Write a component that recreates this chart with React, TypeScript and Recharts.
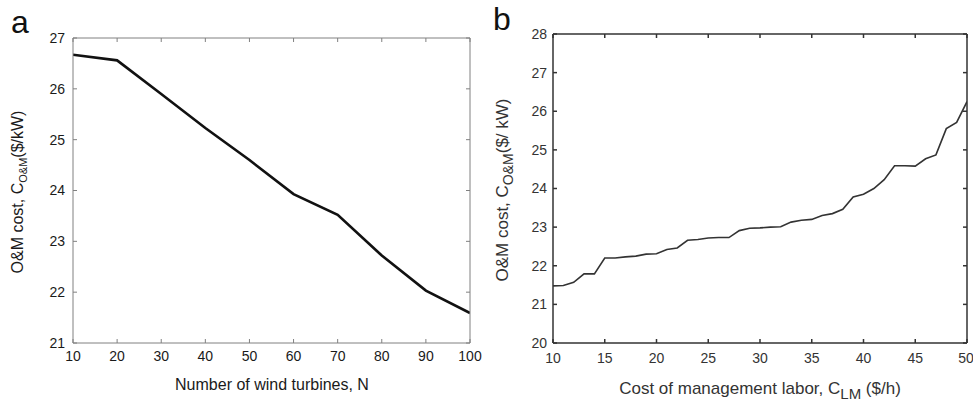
import React from 'react';
import { LineChart, Line, XAxis, YAxis } from 'recharts';

// panel a: O&M cost vs number of wind turbines
const turbineCounts = [10, 20, 30, 40, 50, 60, 70, 80, 90, 100];
const costByTurbines = [26.67, 26.56, 25.9, 25.23, 24.6, 23.93, 23.52, 22.72, 22.03, 21.59];
const turbineTicks = [10, 20, 30, 40, 50, 60, 70, 80, 90, 100];
const costTicksA = [21, 22, 23, 24, 25, 26, 27];

// panel b: O&M cost vs cost of management labor
const laborCosts = [
    10, 11, 12, 13, 14, 15, 16, 17, 18, 19, 20, 21, 22, 23, 24, 25, 26, 27, 28, 29, 30,
    31, 32, 33, 34, 35, 36, 37, 38, 39, 40, 41, 42, 43, 44, 45, 46, 47, 48, 49, 50,
];
const costByLabor = [
    21.48, 21.49, 21.57, 21.79, 21.79, 22.2, 22.2, 22.23, 22.25, 22.3, 22.31,
    22.42, 22.46, 22.66, 22.68, 22.72, 22.73, 22.73, 22.91, 22.97, 22.98,
    23.0, 23.01, 23.13, 23.18, 23.2, 23.3, 23.35, 23.46, 23.78, 23.85,
    24.0, 24.23, 24.59, 24.59, 24.58, 24.77, 24.87, 25.55, 25.71, 26.25,
];
const laborTicks = [10, 15, 20, 25, 30, 35, 40, 45, 50];
const costTicksB = [20, 21, 22, 23, 24, 25, 26, 27, 28];

const dataA = turbineCounts.map((n, i) => ({ n, cost: costByTurbines[i] }));
const dataB = laborCosts.map((c, i) => ({ c, cost: costByLabor[i] }));

const FONT = '"Liberation Sans", Arial, Helvetica, sans-serif';
const noLabel = () => <g />;

export default function App() {
    return (
        <div style={{ position: 'absolute', left: 0, top: 0, width: 973, height: 403, background: '#fff', overflow: 'hidden', fontFamily: FONT }}>
            {/* panel a */}
            <div style={{ position: 'absolute', left: 0, top: 0 }}>
                <LineChart width={490} height={403} data={dataA} margin={{ top: 37, right: 19, bottom: 30, left: 33 }}>
                    <XAxis type="number" dataKey="n" domain={[10, 100]} ticks={turbineTicks} height={30}
                        stroke="#808080" tickSize={-4} tickMargin={12} tick={{ fill: '#1a1a1a', fontSize: 14 }} allowDataOverflow />
                    <XAxis xAxisId="top" orientation="top" type="number" dataKey="n" domain={[10, 100]} ticks={turbineTicks} height={1}
                        stroke="#808080" tickSize={-4} tick={noLabel} allowDataOverflow />
                    <YAxis type="number" domain={[21, 27]} ticks={costTicksA} width={40}
                        stroke="#808080" tickSize={-4} tickMargin={12} tick={{ fill: '#1a1a1a', fontSize: 14 }} allowDataOverflow />
                    <YAxis yAxisId="right" orientation="right" type="number" domain={[21, 27]} ticks={costTicksA} width={1}
                        stroke="#808080" tickSize={-4} tick={noLabel} allowDataOverflow />
                    <Line type="linear" dataKey="cost" stroke="#111" strokeWidth={2.6} dot={false} isAnimationActive={false} />
                    {/* invisible copy so the frame axes get a domain */}
                    <Line xAxisId="top" yAxisId="right" type="linear" dataKey="cost" stroke="none" dot={false} activeDot={false} isAnimationActive={false} />
                </LineChart>
            </div>

            {/* panel b */}
            <div style={{ position: 'absolute', left: 483, top: 0 }}>
                <LineChart width={490} height={403} data={dataB} margin={{ top: 33, right: 5, bottom: 30, left: 30 }}>
                    <XAxis type="number" dataKey="c" domain={[10, 50]} ticks={laborTicks} height={30}
                        stroke="#333" strokeWidth={1.5} tickSize={-4} tickMargin={14} tick={{ fill: '#333', fontSize: 14 }} allowDataOverflow />
                    <XAxis xAxisId="top" orientation="top" type="number" dataKey="c" domain={[10, 50]} ticks={laborTicks} height={1}
                        stroke="#333" strokeWidth={1.5} tickSize={-4} tick={noLabel} allowDataOverflow />
                    <YAxis type="number" domain={[20, 28]} ticks={costTicksB} width={40}
                        stroke="#333" strokeWidth={1.5} tickSize={-4} tickMargin={10} tick={{ fill: '#333', fontSize: 14 }} allowDataOverflow />
                    <YAxis yAxisId="right" orientation="right" type="number" domain={[20, 28]} ticks={costTicksB} width={1}
                        stroke="#333" strokeWidth={1.5} tickSize={-4} tick={noLabel} allowDataOverflow />
                    <Line type="linear" dataKey="cost" stroke="#333" strokeWidth={1.6} dot={false} isAnimationActive={false} />
                    <Line xAxisId="top" yAxisId="right" type="linear" dataKey="cost" stroke="none" dot={false} activeDot={false} isAnimationActive={false} />
                </LineChart>
            </div>

            {/* titles and axis labels */}
            <svg width={973} height={403} style={{ position: 'absolute', left: 0, top: 0, pointerEvents: 'none' }} fontFamily={FONT}>
                <text x={11} y={33} fontSize={32} fill="#111">a</text>
                <text x={493} y={30} fontSize={32} fill="#111">b</text>

                <text x={272} y={390} fontSize={16} fill="#1a1a1a" textAnchor="middle">Number of wind turbines, N</text>
                <text x={23} y={192} fontSize={16} fill="#1a1a1a" textAnchor="middle" transform="rotate(-90 23 192)">
                    O&amp;M cost, C<tspan dy={4} fontSize={11}>O&amp;M</tspan><tspan dy={-4}>($/kW)</tspan>
                </text>

                <text x={760} y={394} fontSize={17} fill="#333" textAnchor="middle">
                    Cost of management labor, C<tspan dy={5} fontSize={15}>LM</tspan><tspan dy={-5}> ($/h)</tspan>
                </text>
                <text x={508} y={190} fontSize={17} fill="#333" textAnchor="middle" transform="rotate(-90 508 190)">
                    O&amp;M cost, C<tspan dy={5} fontSize={14}>O&amp;M</tspan><tspan dy={-5}>($/ kW)</tspan>
                </text>
            </svg>
        </div>
    );
}
